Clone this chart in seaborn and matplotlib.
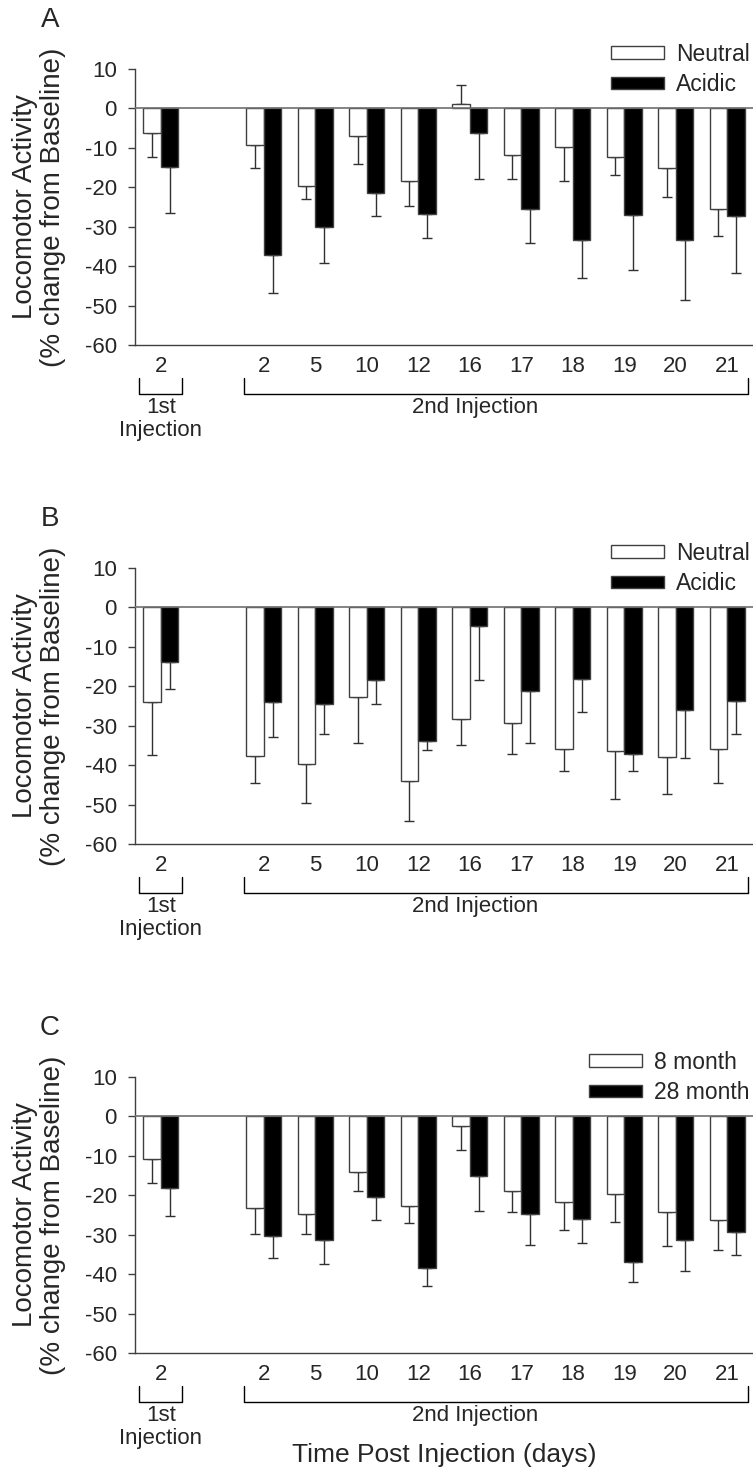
import numpy as np
import pandas as pd
import matplotlib
matplotlib.use("Agg")
import matplotlib.pyplot as plt
import seaborn as sns
from matplotlib import font_manager

sns.set_theme(style="white")
plt.rcParams["font.family"] = ["Liberation Sans", "DejaVu Sans"]
plt.rcParams["axes.unicode_minus"] = False

names = {f.name for f in font_manager.fontManager.ttflist}
narrow = ["Liberation Sans Narrow"] if "Liberation Sans Narrow" in names else ["Liberation Sans"]
narrow = narrow + ["DejaVu Sans"]

# ---------------- data ----------------
days = ["2", "2", "5", "10", "12", "16", "17", "18", "19", "20", "21"]
injection = ["1st"] + ["2nd"] * 10

A_groups = ["Neutral", "Acidic"]
A_neutral = [-6.3, -9.2, -19.8, -7.0, -18.3, 1.2, -11.9, -9.9, -12.2, -15.1, -25.6]
A_neutral_err = [5.9, 5.9, 3.1, 7.0, 6.5, 4.7, 6.1, 8.4, 4.7, 7.3, 6.7]
A_acidic = [-14.9, -37.1, -30.1, -21.5, -26.9, -6.3, -25.6, -33.4, -27.0, -33.4, -27.2]
A_acidic_err = [11.6, 9.6, 9.1, 5.7, 5.9, 11.7, 8.6, 9.5, 13.9, 15.3, 14.5]

B_groups = ["Neutral", "Acidic"]
B_neutral = [-23.9, -37.7, -39.6, -22.6, -44.0, -28.4, -29.2, -36.0, -36.5, -38.0, -36.0]
B_neutral_err = [13.5, 6.8, 9.9, 11.9, 10.1, 6.4, 7.9, 5.6, 12.1, 9.4, 8.5]
B_acidic = [-13.9, -24.0, -24.5, -18.5, -33.9, -4.7, -21.1, -18.2, -37.1, -25.9, -23.8]
B_acidic_err = [6.9, 8.8, 7.7, 6.1, 2.3, 13.7, 13.2, 8.4, 4.4, 12.4, 8.2]

C_groups = ["8 month", "28 month"]
C_8month = [-10.7, -23.2, -24.8, -14.0, -22.6, -2.4, -18.8, -21.7, -19.6, -24.3, -26.3]
C_8month_err = [6.2, 6.7, 4.9, 5.0, 4.5, 6.2, 5.5, 7.0, 7.3, 8.5, 7.6]
C_28month = [-18.2, -30.3, -31.3, -20.4, -38.4, -15.2, -24.8, -26.1, -36.8, -31.4, -29.3]
C_28month_err = [7.0, 5.7, 6.2, 5.9, 4.6, 8.7, 7.7, 6.0, 5.3, 7.7, 5.9]

yticks = [10, 0, -10, -20, -30, -40, -50, -60]
ylabel = "Locomotor Activity\n(% change from Baseline)"
xlabel = "Time Post Injection (days)"

panels = [
    ("A", A_groups, [A_neutral, A_acidic], [A_neutral_err, A_acidic_err]),
    ("B", B_groups, [B_neutral, B_acidic], [B_neutral_err, B_acidic_err]),
    ("C", C_groups, [C_8month, C_28month], [C_8month_err, C_28month_err]),
]

# ---------------- layout ----------------
W, H = 753, 1470
fig = plt.figure(figsize=(W / 100, H / 100), dpi=100)
ax_left, ax_right = 135, 753
ax_tops = [69, 568, 1077]
ax_h = 276

# x positions: a gap between the 1st and 2nd injection
pos = []
for i, inj in enumerate(injection):
    pos.append(i + (1 if inj == "2nd" else 0))

edge = "#404040"
for (letter, groups, means, errs), top in zip(panels, ax_tops):
    rect = [ax_left / W, 1 - (top + ax_h) / H, (ax_right - ax_left) / W, ax_h / H]
    ax = fig.add_axes(rect)
    df = pd.DataFrame({
        "pos": pos * 2,
        "group": [groups[0]] * len(pos) + [groups[1]] * len(pos),
        "value": list(means[0]) + list(means[1]),
    })
    sns.barplot(data=df, x="pos", y="value", hue="group", hue_order=groups,
                palette=["white", "black"], native_scale=True, width=0.68,
                errorbar=None, edgecolor=edge, linewidth=1.0, saturation=1,
                ax=ax, zorder=3)
    bar_containers = list(ax.containers)
    if ax.get_legend() is not None:
        ax.get_legend().remove()

    for cont, err in zip(bar_containers, errs):
        xs, ys, lo, hi = [], [], [], []
        for p, e in zip(cont.patches, err):
            v = p.get_y() + p.get_height()
            xs.append(p.get_x() + p.get_width() / 2)
            ys.append(v)
            lo.append(e if v < 0 else 0)
            hi.append(e if v >= 0 else 0)
        ax.errorbar(xs, ys, yerr=[lo, hi], fmt="none", ecolor="#303030",
                    elinewidth=1.0, capsize=3.6, capthick=1.0, zorder=2)

    ax.axhline(0, color="#707070", lw=1.2, zorder=4)
    ax.set_xlim(-0.5, 11.5)
    ax.set_ylim(-60, 10)
    ax.set_yticks(yticks)
    ax.set_xticks(pos, labels=days)
    ax.tick_params(axis="x", length=0, pad=8, labelsize=16)
    for lab in ax.get_xticklabels():
        lab.set_family(narrow)
    ax.tick_params(axis="y", left=True, length=5, width=1, color=edge,
                   labelsize=16, pad=8)
    ax.set_xlabel("")
    ax.set_ylabel(ylabel, fontsize=20, linespacing=1.15)
    ax.yaxis.label.set_va("center")
    ax.yaxis.set_label_coords((39 - ax_left) / (ax_right - ax_left), 0.5)
    sns.despine(ax=ax, top=True, right=True)
    for s in ["left", "bottom"]:
        ax.spines[s].set_color(edge)
        ax.spines[s].set_linewidth(1.0)

    # injection brackets
    first = [p for p, inj in zip(pos, injection) if inj == "1st"]
    second = [p for p, inj in zip(pos, injection) if inj == "2nd"]
    ytop, ybot = -68.3, -72.4
    for xa, xb in [(first[0] - 0.42, first[-1] + 0.42), (second[0] - 0.38, second[-1] + 0.41)]:
        ax.plot([xa, xa, xb, xb], [ytop, ybot, ybot, ytop], color="black",
                lw=1.0, clip_on=False)
    ax.text(first[0], -75.8, "1st", ha="center", va="center", fontsize=16, family=narrow)
    ax.text(first[0], -81.8, "Injection", ha="center", va="center", fontsize=16, family=narrow)
    ax.text(6.1, -75.8, "2nd Injection", ha="center", va="center", fontsize=16, family=narrow)

    # legend
    handles = [c.patches[0] for c in bar_containers]
    ax.legend(handles, groups, loc="upper right", bbox_to_anchor=(0.995, 1.095),
              frameon=False, fontsize=16.5, handlelength=2.3, handleheight=0.45,
              handletextpad=0.55, labelspacing=0.32, borderpad=0, borderaxespad=0)

    fig.text(50 / W, 1 - (top - 49) / H, letter, ha="center", va="center", fontsize=20)

fig.text(444 / W, 1 - 1455 / H, xlabel, ha="center", va="center", fontsize=19, family=narrow)

fig.savefig("out.png", dpi=100)
